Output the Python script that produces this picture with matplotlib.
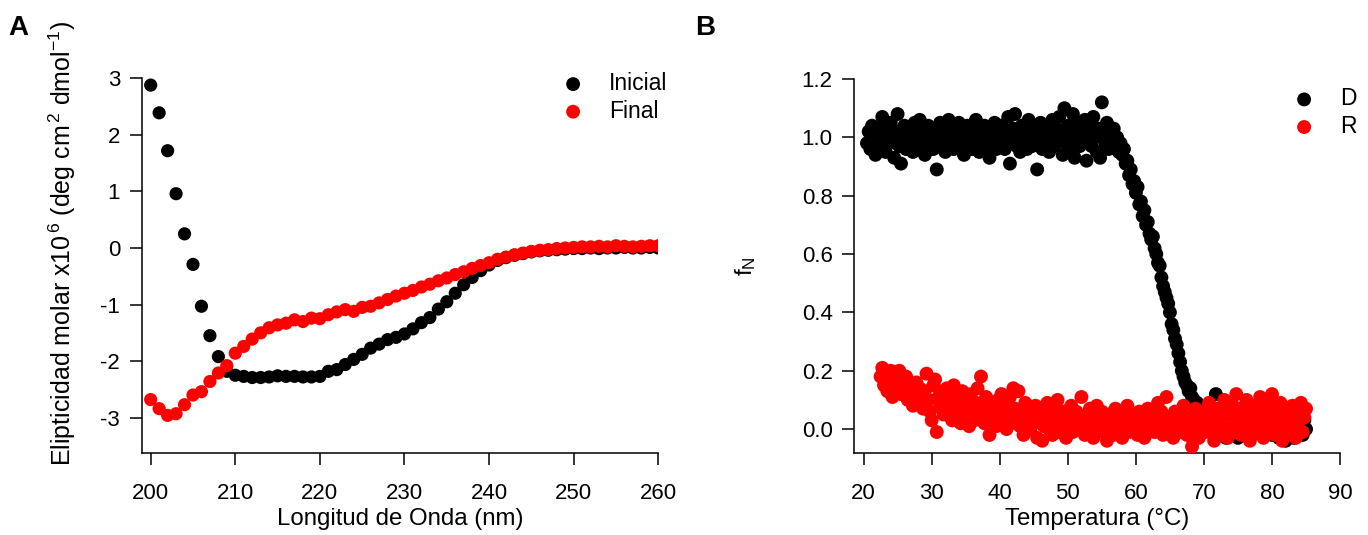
import numpy as np
import matplotlib
matplotlib.use('Agg')
import matplotlib.pyplot as plt

plt.rcParams['font.family'] = ['Liberation Sans', 'DejaVu Sans']
plt.rcParams['mathtext.fontset'] = 'custom'
plt.rcParams['mathtext.rm'] = 'Liberation Sans'
plt.rcParams['mathtext.it'] = 'Liberation Sans'
plt.rcParams['axes.unicode_minus'] = False

# Panel A: espectro CD (x10^6)
longitud = np.arange(200, 261)
inicial = [2.88, 2.39, 1.72, 0.96, 0.25, -0.29, -1.03, -1.55, -1.92, -2.18,
           -2.25, -2.27, -2.29, -2.29, -2.28, -2.26, -2.27, -2.27, -2.28, -2.28,
           -2.27, -2.18, -2.15, -2.06, -1.97, -1.88, -1.77, -1.70, -1.62, -1.58,
           -1.52, -1.43, -1.32, -1.23, -1.08, -0.95, -0.80, -0.65, -0.52, -0.40,
           -0.30, -0.22, -0.17, -0.13, -0.10, -0.07, -0.05, -0.04, -0.03, -0.02,
           -0.01, -0.01, 0.00, -0.01, 0.00, 0.00, 0.01, 0.00, 0.00, 0.01, 0.00]
final = [-2.68, -2.84, -2.96, -2.93, -2.77, -2.60, -2.54, -2.36, -2.21, -2.08,
         -1.86, -1.74, -1.61, -1.50, -1.41, -1.36, -1.33, -1.27, -1.30, -1.24,
         -1.25, -1.18, -1.13, -1.09, -1.12, -1.05, -1.03, -0.97, -0.91, -0.85,
         -0.80, -0.75, -0.69, -0.64, -0.58, -0.53, -0.47, -0.42, -0.36, -0.31,
         -0.26, -0.20, -0.16, -0.12, -0.09, -0.06, -0.04, -0.03, -0.01, 0.00,
         0.01, 0.02, 0.02, 0.03, 0.02, 0.04, 0.03, 0.02, 0.03, 0.04, 0.04]

# Panel B: fraccion nativa vs temperatura
fN_D = [0.98, 1.02, 0.96, 1.04, 0.99, 0.94, 1.01, 1.03, 0.97, 1.07,
        1.00, 0.95, 1.03, 0.98, 1.05, 0.99, 0.93, 1.02, 1.08, 0.97,
        0.91, 1.01, 1.04, 0.96, 1.00, 1.03, 0.98, 0.95, 1.05, 1.01,
        0.97, 1.06, 0.99, 1.02, 0.94, 1.00, 1.04, 0.97, 1.01, 0.96,
        1.03, 0.89, 0.99, 1.05, 0.98, 1.02, 0.95, 1.00, 1.06, 0.98,
        1.03, 0.96, 1.01, 0.99, 1.05, 0.97, 1.02, 0.94, 1.00, 1.04,
        0.98, 1.03, 0.96, 1.01, 1.06, 0.99, 0.95, 1.02, 0.98, 1.04,
        0.97, 1.00, 0.93, 1.03, 0.99, 1.05, 0.96, 1.01, 0.98, 1.04,
        1.00, 0.96, 1.02, 1.07, 0.91, 0.99, 1.03, 1.08, 0.97, 1.01,
        0.95, 1.04, 0.98, 1.02, 0.96, 1.06, 1.00, 0.97, 1.03, 0.99,
        0.89, 1.01, 1.05, 0.96, 1.02, 0.98, 1.04, 0.95, 1.00, 1.06,
        0.97, 1.03, 0.99, 1.07, 1.01, 0.94, 1.10, 0.98, 1.04, 0.96,
        1.02, 1.08, 0.93, 1.00, 1.05, 0.97, 1.03, 0.99, 1.06, 0.92,
        1.01, 1.04, 0.97, 1.07, 1.00, 0.95, 1.03, 0.93, 1.12,
        1.02, 0.98, 1.05, 0.96, 1.01, 0.99, 1.03, 0.97, 1.00, 0.95,
        0.98, 0.94, 0.96, 0.91, 0.92, 0.87, 0.89, 0.84, 0.85, 0.81,
        0.83, 0.77, 0.78, 0.73, 0.75, 0.70, 0.71, 0.67, 0.65, 0.66,
        0.62, 0.60, 0.57, 0.56, 0.52, 0.49, 0.47, 0.45, 0.43, 0.40,
        0.36, 0.34, 0.31, 0.29, 0.26, 0.23, 0.20, 0.18, 0.16, 0.15,
        0.13, 0.14, 0.11, 0.10, 0.08, 0.09, 0.06, 0.07, 0.04, 0.05,
        0.03, 0.02, 0.03, 0.00, 0.02, 0.01,
        0.12, 0.01, -0.02, 0.03, 0.00, 0.05, -0.03, 0.02, 0.06, -0.01,
        0.03, 0.00, 0.04, -0.03, 0.02, 0.07, -0.01, 0.01, 0.04, -0.02,
        -0.03, 0.02, 0.05, 0.00, 0.03, 0.08, 0.06, -0.01, 0.10, 0.04,
        0.09, 0.02, 0.07, -0.02, 0.03, 0.05, 0.00, -0.03, 0.02, -0.01,
        0.04, -0.04, 0.01, -0.02, 0.03, 0.00, -0.03, 0.02, -0.01, 0.04,
        0.01, -0.02, 0.03, 0.00]
fN_R = [0.18, 0.21, 0.15, 0.19, 0.13, 0.17, 0.20, 0.11, 0.16, 0.14,
        0.19, 0.20, 0.12, 0.16, 0.14, 0.18, 0.10, 0.15, 0.13, 0.08,
        0.12, 0.16, 0.09, 0.14, 0.11, 0.07, 0.13, 0.19, 0.10, 0.06,
        0.03, 0.15, 0.17, -0.01, 0.11, 0.08, 0.13, 0.05, 0.10, 0.14,
        0.07, 0.12, 0.03, 0.15, 0.09, 0.06, 0.11, 0.02, 0.13, 0.08,
        0.05, 0.10, 0.01, 0.12, 0.07, 0.03, 0.09, 0.14, 0.04, 0.18,
        0.08, 0.02, 0.11, 0.06, -0.02, 0.09, 0.04, 0.07, 0.01, 0.10,
        0.05, 0.12, 0.03, 0.08, 0.00, 0.06, 0.11, 0.02, 0.14, 0.07,
        0.04, 0.13, 0.01, 0.06, -0.02, 0.09, 0.03, 0.05, 0.00, 0.07,
        0.02, 0.08, -0.03, 0.04, 0.06, -0.04, 0.01, 0.05, 0.09, 0.00,
        0.03, -0.02, 0.07, 0.02, 0.10, -0.01, 0.04, 0.06, 0.01, -0.03,
        0.05, 0.02, 0.08, -0.01, 0.03, 0.06, 0.00, 0.04, 0.11, 0.02,
        -0.02, 0.05, 0.01, 0.07, 0.03, -0.03, 0.04, 0.08, 0.00, 0.02,
        0.06, -0.01, 0.03, -0.04, 0.05, 0.01, 0.04, -0.02, 0.07, 0.02,
        0.00, 0.04, -0.03, 0.06, 0.02, 0.08, -0.01, 0.03, 0.05, 0.00,
        0.03, -0.02, 0.06, 0.01, 0.04, -0.03, 0.02, 0.07, 0.00, 0.05,
        0.02, -0.01, 0.04, 0.09, 0.01, 0.06, -0.02, 0.03, 0.11, 0.00,
        0.04, 0.02, -0.03, 0.06, 0.01, 0.03, -0.01, 0.05, 0.08, 0.02,
        -0.02, 0.04, 0.00, -0.06, 0.03, 0.07, 0.01, -0.03, 0.05, 0.02,
        0.06, -0.01, 0.03, 0.09, 0.00, 0.05, -0.04, 0.02, 0.07, 0.01,
        -0.02, 0.04, 0.10, 0.02, -0.03, 0.06, 0.01, 0.08, -0.01, 0.12,
        0.03, 0.07, -0.02, 0.05, 0.00, 0.10, 0.02, -0.04, 0.06, 0.01,
        0.08, -0.01, 0.04, 0.11, 0.02, -0.03, 0.07, 0.00, 0.05, 0.09,
        0.12, 0.03, -0.02, 0.06, 0.01, 0.09, -0.04, 0.04, 0.07, 0.00,
        0.05, -0.01, 0.08, 0.02, -0.03, 0.06, 0.03, 0.09, -0.01, 0.04, 0.07]
temp_D = np.linspace(20.5, 85.0, len(fN_D))
temp_R = np.linspace(22.5, 85.0, len(fN_R))

fig = plt.figure(figsize=(13.68, 5.35), dpi=100)
axA = fig.add_axes([0.1036, 0.1527, 0.3776, 0.7009])
axB = fig.add_axes([0.6243, 0.1527, 0.3553, 0.6996])

axA.scatter(longitud, inicial, s=90, color='black', edgecolors='none', label='Inicial', zorder=3)
axA.scatter(longitud, final, s=90, color='red', edgecolors='none', label='Final', zorder=3)
axA.set_xlim(198.94, 260)
axA.set_ylim(-3.63, 3.0)
axA.set_xticks(range(200, 261, 10))
axA.set_yticks(range(-3, 4))
axA.set_xlabel('Longitud de Onda (nm)', fontsize=17.3, labelpad=3)
axA.set_ylabel(r'Elipticidad molar x10$^{\,6}$ (deg cm$^{\,2}$ dmol$^{-1}$)', fontsize=18)
axA.yaxis.set_label_coords(-0.124, 0.56)
axA.legend(loc='upper left', bbox_to_anchor=(0.773, 1.041), frameon=False, fontsize=16.5,
           handletextpad=0.55, labelspacing=0.2, markerscale=1.05, borderaxespad=0)

axB.scatter(temp_D, fN_D, s=100, color='black', edgecolors='none', label='D', zorder=3)
axB.scatter(temp_R, fN_R, s=100, color='red', edgecolors='none', label='R', zorder=4)
axB.set_xlim(18.6, 90)
axB.set_ylim(-0.083, 1.2)
axB.set_xticks(range(20, 91, 10))
axB.set_yticks(np.arange(0, 1.21, 0.2))
axB.set_yticklabels(['0.0', '0.2', '0.4', '0.6', '0.8', '1.0', '1.2'])
axB.set_xlabel('Temperatura (°C)', fontsize=17.3, labelpad=3)
axB.set_ylabel(r'f$_{\mathrm{N}}$', fontsize=17.5, labelpad=31)
axB.legend(loc='upper left', bbox_to_anchor=(0.86, 1.002), frameon=False, fontsize=16.5,
           handletextpad=0.55, labelspacing=0.2, markerscale=1.0, borderaxespad=0)

for ax in (axA, axB):
    for side in ('top', 'right'):
        ax.spines[side].set_visible(False)
    for side in ('left', 'bottom'):
        ax.spines[side].set_linewidth(1.1)
    ax.tick_params(direction='out', length=8.5, width=1.1, labelsize=16)
    ax.tick_params(axis='x', pad=13)
    ax.tick_params(axis='y', pad=7)

fig.text(0.006, 0.935, 'A', fontsize=20, fontweight='bold')
fig.text(0.508, 0.935, 'B', fontsize=20, fontweight='bold')

fig.savefig('out.png', dpi=100)
